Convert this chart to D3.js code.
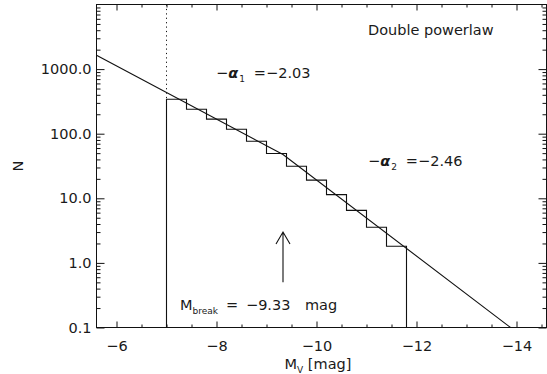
<!DOCTYPE html>
<html>
<head>
<meta charset="utf-8">
<script src="https://cdn.jsdelivr.net/npm/d3@7/dist/d3.min.js"></script>
<style>
  html, body { margin: 0; padding: 0; background: #fff; }
  svg { display: block; }
  text { font-family: "DejaVu Sans", sans-serif; fill: #1a1a1a; }
</style>
</head>
<body>
<svg id="chart" width="547" height="374"></svg>
<script>
// Histogram of cluster magnitudes (0.4 mag bins) with a double power-law fit
const binEdges = [-7.0, -7.4, -7.8, -8.2, -8.6, -9.0, -9.4, -9.8, -10.2, -10.6, -11.0, -11.4, -11.8];
const binCounts = [342, 239, 168, 117, 76.5, 49.3, 31.4, 19.1, 11.4, 6.5, 3.57, 1.81];

// Fitted double power law: two straight segments in log N, joined at the break
const fitM = [-5.6, -9.33, -13.88];
const fitN = [1640, 47.6, 0.1];

const breakMag = -9.33;
const alpha1 = -2.03;
const alpha2 = -2.46;
const arrowN = [0.5, 3.0];   // arrow marking the break magnitude

const xTickValues = [-6, -8, -10, -12, -14];
const xTickLabels = ["\u22126", "\u22128", "\u221210", "\u221212", "\u221214"];
const yTickValues = [0.1, 1, 10, 100, 1000];
const yTickLabels = ["0.1", "1.0", "10.0", "100.0", "1000.0"];

const xDomain = [-5.6, -14.6];
const yDomain = [0.1, 10000];

const plotL = 96.5, plotR = 546.5, plotT = 4.5, plotB = 327.5;

const svg = d3.select("#chart");
const x = d3.scaleLinear().domain(xDomain).range([plotL, plotR]);
const y = d3.scaleLog().domain(yDomain).range([plotB, plotT]);

// minor tick positions
const xMinor = d3.range(-6, -14.6, -0.5).filter(v => Math.abs(v % 2) > 1e-9);
const yMinor = [];
yTickValues.forEach(d => { for (let k = 2; k <= 9; k++) yMinor.push(+(d * k).toPrecision(3)); });

const fmtX = v => xTickLabels[xTickValues.indexOf(v)];
const fmtY = v => yTickLabels[yTickValues.indexOf(v)];

const axisStyle = g => {
  g.selectAll("path.domain").remove();
  g.selectAll("line").attr("stroke", "#111").attr("stroke-width", 1);
  g.selectAll("text").style("font-size", "14.5px").attr("fill", "#1a1a1a")
    .style("font-family", "'DejaVu Sans', sans-serif");
};

// bottom axis (ticks pointing inward)
svg.append("g").attr("transform", `translate(0,${plotB})`)
  .call(d3.axisBottom(x).tickValues(xTickValues).tickFormat(fmtX).tickSize(-6).tickPadding(13))
  .call(axisStyle);
svg.append("g").attr("transform", `translate(0,${plotB})`)
  .call(d3.axisBottom(x).tickValues(xMinor).tickFormat("").tickSize(-3))
  .call(axisStyle);
// top axis
svg.append("g").attr("transform", `translate(0,${plotT})`)
  .call(d3.axisTop(x).tickValues(xTickValues).tickFormat("").tickSize(-6))
  .call(axisStyle);
svg.append("g").attr("transform", `translate(0,${plotT})`)
  .call(d3.axisTop(x).tickValues(xMinor).tickFormat("").tickSize(-3))
  .call(axisStyle);
// left axis
svg.append("g").attr("transform", `translate(${plotL},0)`)
  .call(d3.axisLeft(y).tickValues(yTickValues).tickFormat(fmtY).tickSize(-8).tickPadding(5))
  .call(axisStyle);
svg.append("g").attr("transform", `translate(${plotL},0)`)
  .call(d3.axisLeft(y).tickValues(yMinor).tickFormat("").tickSize(-4))
  .call(axisStyle);
// right axis
svg.append("g").attr("transform", `translate(${plotR},0)`)
  .call(d3.axisRight(y).tickValues(yTickValues).tickFormat("").tickSize(-8))
  .call(axisStyle);
svg.append("g").attr("transform", `translate(${plotR},0)`)
  .call(d3.axisRight(y).tickValues(yMinor).tickFormat("").tickSize(-4))
  .call(axisStyle);

// frame
svg.append("rect").attr("x", plotL).attr("y", plotT)
  .attr("width", plotR - plotL).attr("height", plotB - plotT)
  .attr("fill", "none").attr("stroke", "#111").attr("stroke-width", 1);

// histogram outline
const histPts = [[binEdges[0], yDomain[0]]]
  .concat(binCounts.map((c, i) => [binEdges[i], c]))
  .concat([[binEdges[binEdges.length - 1], yDomain[0]]]);
svg.append("path")
  .attr("d", d3.line().x(d => x(d[0])).y(d => y(d[1])).curve(d3.curveStepAfter)(histPts))
  .attr("fill", "none").attr("stroke", "#111").attr("stroke-width", 1.1);

// completeness limit (dotted) above the first bin
svg.append("line")
  .attr("x1", x(binEdges[0])).attr("x2", x(binEdges[0]))
  .attr("y1", y(yDomain[1])).attr("y2", y(binCounts[0]))
  .attr("stroke", "#111").attr("stroke-width", 1).attr("stroke-dasharray", "1.2,3.2");

// fit line
svg.append("path")
  .attr("d", d3.line().x((d, i) => x(fitM[i])).y((d, i) => y(fitN[i]))(fitM))
  .attr("fill", "none").attr("stroke", "#111").attr("stroke-width", 1.1);

// break arrow
const ax = x(breakMag), ay0 = y(arrowN[0]), ay1 = y(arrowN[1]);
svg.append("path")
  .attr("d", `M${ax},${ay0}L${ax},${ay1}M${ax - 7},${ay1 + 12}L${ax},${ay1}L${ax + 7},${ay1 + 12}`)
  .attr("fill", "none").attr("stroke", "#111").attr("stroke-width", 1.1);

// annotations
const fs = "14.5px";
svg.append("text").attr("x", 368).attr("y", 35).style("font-size", fs).text("Double powerlaw");

function alphaLabel(xp, yp, sub, val) {
  const t = svg.append("text").attr("x", xp).attr("y", yp).style("font-size", fs);
  t.append("tspan").text("\u2212");
  t.append("tspan").style("font-style", "italic").style("font-weight", "bold").text("\u03b1");
  t.append("tspan").attr("dy", 4).attr("dx", 1).style("font-size", "9px").text(sub);
  t.append("tspan").attr("dy", -4).attr("dx", 9).text("=" + d3.format(".2f")(val).replace("-", "\u2212"));
}
alphaLabel(216, 78, "1", alpha1);
alphaLabel(368, 166, "2", alpha2);

const mb = svg.append("text").attr("x", 180).attr("y", 310).style("font-size", fs);
mb.append("tspan").text("M");
mb.append("tspan").attr("dy", 4).style("font-size", "9px").text("break");
mb.append("tspan").attr("dy", -4).attr("x", 226).text("=");
mb.append("tspan").attr("x", 246).text(d3.format(".2f")(breakMag).replace("-", "\u2212"));
mb.append("tspan").attr("x", 305).text("mag");

// axis titles
const xt = svg.append("text").attr("x", 318).attr("y", 369).attr("text-anchor", "middle").style("font-size", fs);
xt.append("tspan").text("M");
xt.append("tspan").attr("dy", 4).style("font-size", "9px").text("V");
xt.append("tspan").attr("dy", -4).text(" [mag]");

svg.append("text").attr("transform", "translate(23,166) rotate(-90)")
  .attr("text-anchor", "middle").style("font-size", fs).text("N");
</script>
</body>
</html>
